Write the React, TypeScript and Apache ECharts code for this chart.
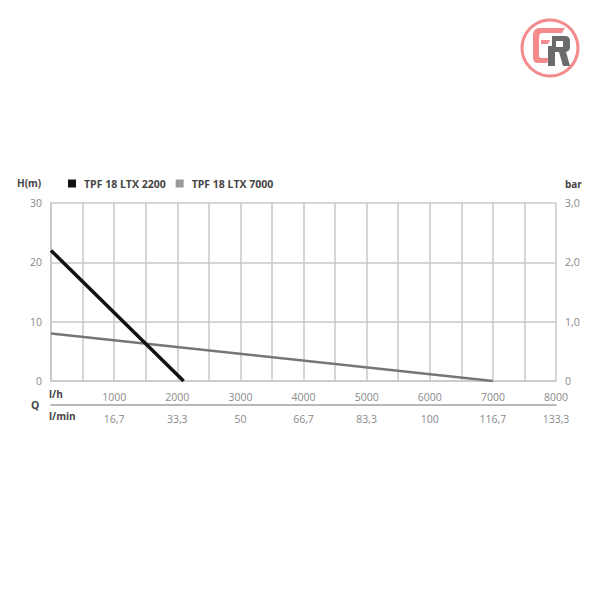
import React, { useEffect, useRef } from "react";
import * as echarts from "echarts";

// Series data (Q in l/h, H in m)
const seriesNames = ["TPF 18 LTX 2200", "TPF 18 LTX 7000"];
const pump2200Q = [0, 2100];
const pump2200H = [22, 0];
const pump7000Q = [0, 7000];
const pump7000H = [8, 0];

// Tick labels
const lhTicks = [1000, 2000, 3000, 4000, 5000, 6000, 7000, 8000];
const lminLabels = ["16,7", "33,3", "50", "66,7", "83,3", "100", "116,7", "133,3"];
const barLabels = ["0", "1,0", "2,0", "3,0"];

const FONT = "'Open Sans', 'Noto Sans', sans-serif";
const GRID = "#c9c9c9";
const LABEL = "#8a8a8a";
const DARK = "#444";

const logoC =
  "M540 28 L565 28 L562 33 L543 33 Q539 33 539 37 L539 56 Q539 58 541 58 L549 58 L547 63 L538 63 Q533 63 533 58 L533 35 Q533 28 540 28 Z M541 40 L550 40 L548 44 L541 44 Z";
const logoR =
  "M552 36 L565 36 Q570 36 570 41 L570 47 Q570 51 566 52 L570 66 L563 66 L559 52 L555 52 L555 66 L548 66 L548 46 L552 46 Z M556 41 L556 47 L563 47 L563 41 Z";

echarts.graphic.registerShape("logoC", echarts.graphic.extendPath(logoC, {}));
echarts.graphic.registerShape("logoR", echarts.graphic.extendPath(logoR, {}));

export default function App() {
  const ref = useRef<HTMLDivElement>(null);
  useEffect(() => {
    if (!ref.current) return;
    const chart = echarts.init(ref.current, null, { renderer: "svg" });
    const zip = (xs: number[], ys: number[]) => xs.map((x, i) => [x, ys[i]]);
    chart.setOption({
      animation: false,
      backgroundColor: "#ffffff",
      textStyle: { fontFamily: FONT },
      grid: { left: 51, right: 44, top: 203, bottom: 219, containLabel: false },
      legend: {
        left: 63,
        top: 173,
        icon: "rect",
        itemWidth: 8,
        itemHeight: 8,
        itemGap: 10,
        data: seriesNames,
        textStyle: { fontFamily: FONT, fontSize: 10.5, fontWeight: "bold", color: DARK, padding: [0, 0, 0, 3] },
      },
      xAxis: [
        {
          type: "value",
          min: 0,
          max: 8000,
          interval: 500,
          position: "bottom",
          axisLine: { show: true, lineStyle: { color: GRID, width: 1.5 } },
          axisTick: { show: false },
          splitLine: { show: true, lineStyle: { color: GRID, width: 1.5 } },
          axisLabel: {
            margin: 10,
            fontSize: 10.5,
            color: LABEL,
            fontFamily: FONT,
            formatter: (v: number) => (lhTicks.indexOf(v) >= 0 ? String(v) : ""),
          },
        },
        {
          type: "value",
          min: 0,
          max: 8000,
          interval: 500,
          position: "bottom",
          offset: 24,
          axisLine: { show: true, onZero: false, lineStyle: { color: "#a0a0a0", width: 1.5 } },
          axisTick: { show: false },
          splitLine: { show: false },
          axisLabel: {
            margin: 8,
            fontSize: 10.5,
            color: LABEL,
            fontFamily: FONT,
            formatter: (v: number) => {
              const i = lhTicks.indexOf(v);
              return i >= 0 ? lminLabels[i] : "";
            },
          },
        },
      ],
      yAxis: [
        {
          type: "value",
          min: 0,
          max: 30,
          interval: 10,
          position: "left",
          axisLine: { show: true, lineStyle: { color: GRID, width: 1.5 } },
          axisTick: { show: false },
          splitLine: { show: true, lineStyle: { color: GRID, width: 1.5 } },
          axisLabel: { margin: 9, fontSize: 10.5, color: LABEL, fontFamily: FONT },
        },
        {
          type: "value",
          min: 0,
          max: 3,
          interval: 1,
          position: "right",
          axisLine: { show: true, lineStyle: { color: GRID, width: 1.5 } },
          axisTick: { show: false },
          splitLine: { show: false },
          axisLabel: {
            margin: 9,
            fontSize: 10.5,
            color: LABEL,
            fontFamily: FONT,
            formatter: (v: number) => barLabels[Math.round(v)] ?? "",
          },
        },
      ],
      series: [
        {
          name: seriesNames[0],
          type: "line",
          xAxisIndex: 0,
          yAxisIndex: 0,
          data: zip(pump2200Q, pump2200H),
          showSymbol: false,
          symbol: "none",
          itemStyle: { color: "#111111" },
          lineStyle: { color: "#111111", width: 3.5 },
          z: 3,
        },
        {
          name: seriesNames[1],
          type: "line",
          xAxisIndex: 0,
          yAxisIndex: 0,
          data: zip(pump7000Q, pump7000H),
          showSymbol: false,
          symbol: "none",
          itemStyle: { color: "#9a9a9a" },
          lineStyle: { color: "#767676", width: 2.5 },
          z: 2,
        },
      ],
      graphic: [
        { type: "text", left: 17, top: 178, style: { text: "H(m)", fontFamily: FONT, fontSize: 10, fontWeight: "bold", fill: DARK } },
        { type: "text", left: 565, top: 179, style: { text: "bar", fontFamily: FONT, fontSize: 10, fontWeight: "bold", fill: DARK } },
        { type: "text", left: 31, top: 399, style: { text: "Q", fontFamily: FONT, fontSize: 10.5, fontWeight: "bold", fill: DARK } },
        { type: "text", left: 49, top: 389, style: { text: "l/h", fontFamily: FONT, fontSize: 10, fontWeight: "bold", fill: DARK } },
        { type: "text", left: 49, top: 411, style: { text: "l/min", fontFamily: FONT, fontSize: 10, fontWeight: "bold", fill: DARK } },
        {
          type: "circle",
          shape: { cx: 550, cy: 48, r: 28 },
          style: { fill: "none", stroke: "#f38a8c", lineWidth: 3 },
        },
        { type: "logoC", x: 0, y: 0, style: { fill: "#f38a8c" } },
        { type: "logoR", x: 0, y: 0, style: { fill: "#6b6b6b" } },
      ],
    });
    return () => chart.dispose();
  }, []);
  return <div ref={ref} style={{ position: "absolute", left: 0, top: 0, width: 600, height: 600 }} />;
}
